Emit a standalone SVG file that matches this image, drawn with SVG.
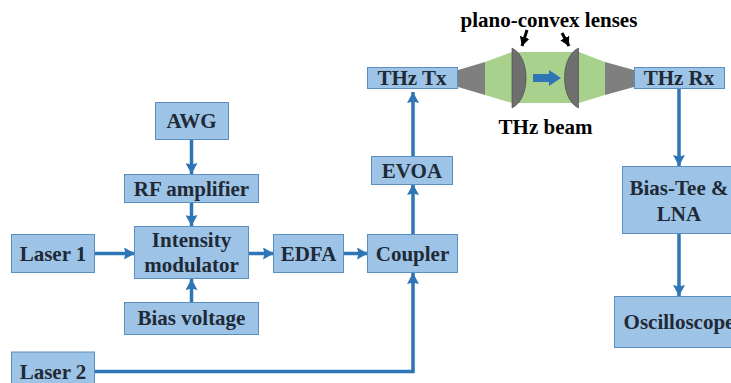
<svg xmlns="http://www.w3.org/2000/svg" width="731" height="383" viewBox="0 0 731 383">
<style>
.n{fill:#9dc3e6;stroke:#5b8fc0;stroke-width:1}
.t{font-family:"Liberation Serif",serif;font-weight:bold;font-size:21px;fill:#1f2a36;text-anchor:middle}
.k{fill:#000}
.c{fill:none;stroke:#2e75b6;stroke-width:3.500}
.g{fill:#7f7f7f}
.b{fill:#a9d18e}
.l{fill:#6f6f6f;stroke:#404040;stroke-width:.6}
.h{fill:none;stroke:#000;stroke-width:3}
</style>
<defs><marker id="a" markerUnits="userSpaceOnUse" markerWidth="12" markerHeight="12" refX="11" refY="6" orient="auto"><path d="M0 0L11 6L0 12L1.500 6Z" fill="#2e75b6"/></marker>
<marker id="m" markerUnits="userSpaceOnUse" markerWidth="10" markerHeight="10" refX="9" refY="5" orient="auto"><path d="M0 0L9 5L0 10Z" fill="#000"/></marker></defs>
<rect width="731" height="383" fill="#fff"/>
<g id="connectors">
<path class="c" marker-end="url(#a)" d="M191.500 139V174"/>
<path class="c" marker-end="url(#a)" d="M191.500 203V226"/>
<path class="c" marker-end="url(#a)" d="M191.500 302V279"/>
<path class="c" marker-end="url(#a)" d="M95 253.500H135"/>
<path class="c" marker-end="url(#a)" d="M249 253.500H274"/>
<path class="c" marker-end="url(#a)" d="M344 253.500H368"/>
<path class="c" marker-end="url(#a)" d="M95 371.500H413V273"/>
<path class="c" marker-end="url(#a)" d="M413 234V184"/>
<path class="c" marker-end="url(#a)" d="M413 156V92"/>
<path class="c" marker-end="url(#a)" d="M679 89V166"/>
<path class="c" marker-end="url(#a)" d="M679 234V296"/>
</g>
<g id="beam">
<path class="b" d="M485 62L512 52H579L605 62V95L579 103H512L485 95Z"/>
<path class="g" d="M458 70L485 62V95L458 87Z"/>
<path class="g" d="M605 62L634 70V87L605 95Z"/>
<path class="l" d="M512 48C522 53 526 66 526 78C526 90 522 103 512 108Z"/>
<path class="l" d="M578.500 48C568.500 53 564.500 66 564.500 78C564.500 90 568.500 103 578.500 108Z"/>
<path d="M533 74H549V70L561 78L549 86V82H533Z" fill="#2e75b6"/>
<path class="h" marker-end="url(#m)" d="M527 30L522 46"/>
<path class="h" marker-end="url(#m)" d="M562 33L569 46"/>
<text class="t k" x="549" y="27">plano-convex lenses</text>
<text class="t k" x="545.500" y="134">THz beam</text>
</g>
<g id="awg"><rect class="n" x="155.500" y="102.500" width="73" height="37"/><text class="t" x="191.500" y="128">AWG</text></g>
<g id="rf"><rect class="n" x="124.500" y="174.500" width="134" height="28"/><text class="t" x="191.500" y="196">RF amplifier</text></g>
<g id="im"><rect class="n" x="134.500" y="226.500" width="114" height="52"/><text class="t" x="191.500" y="247">Intensity</text><text class="t" x="191.500" y="272">modulator</text></g>
<g id="bias"><rect class="n" x="124.500" y="302.500" width="134" height="32"/><text class="t" x="191.500" y="325">Bias voltage</text></g>
<g id="l1"><rect class="n" x="11.500" y="234.500" width="83" height="38"/><text class="t" x="53" y="261">Laser 1</text></g>
<g id="l2"><rect class="n" x="11.500" y="352" width="83" height="38"/><text class="t" x="53" y="379">Laser 2</text></g>
<g id="edfa"><rect class="n" x="273.500" y="234.500" width="70" height="38"/><text class="t" x="308.500" y="261">EDFA</text></g>
<g id="coupler"><rect class="n" x="367.500" y="234.500" width="90" height="38"/><text class="t" x="412.500" y="261">Coupler</text></g>
<g id="evoa"><rect class="n" x="371.500" y="156.500" width="81" height="28"/><text class="t" x="412" y="178">EVOA</text></g>
<g id="tx"><rect class="n" x="367.500" y="67.500" width="90" height="21"/><text class="t" x="412" y="85">THz Tx</text></g>
<g id="rx"><rect class="n" x="634.500" y="67.500" width="90" height="21"/><text class="t" x="679" y="85">THz Rx</text></g>
<g id="lna"><rect class="n" x="622.500" y="166.500" width="115" height="67"/><text class="t" x="679" y="195">Bias-Tee &amp;</text><text class="t" x="679" y="221">LNA</text></g>
<g id="osc"><rect class="n" x="614.500" y="296.500" width="130" height="51"/><text class="t" x="679" y="329">Oscilloscope</text></g>
</svg>
